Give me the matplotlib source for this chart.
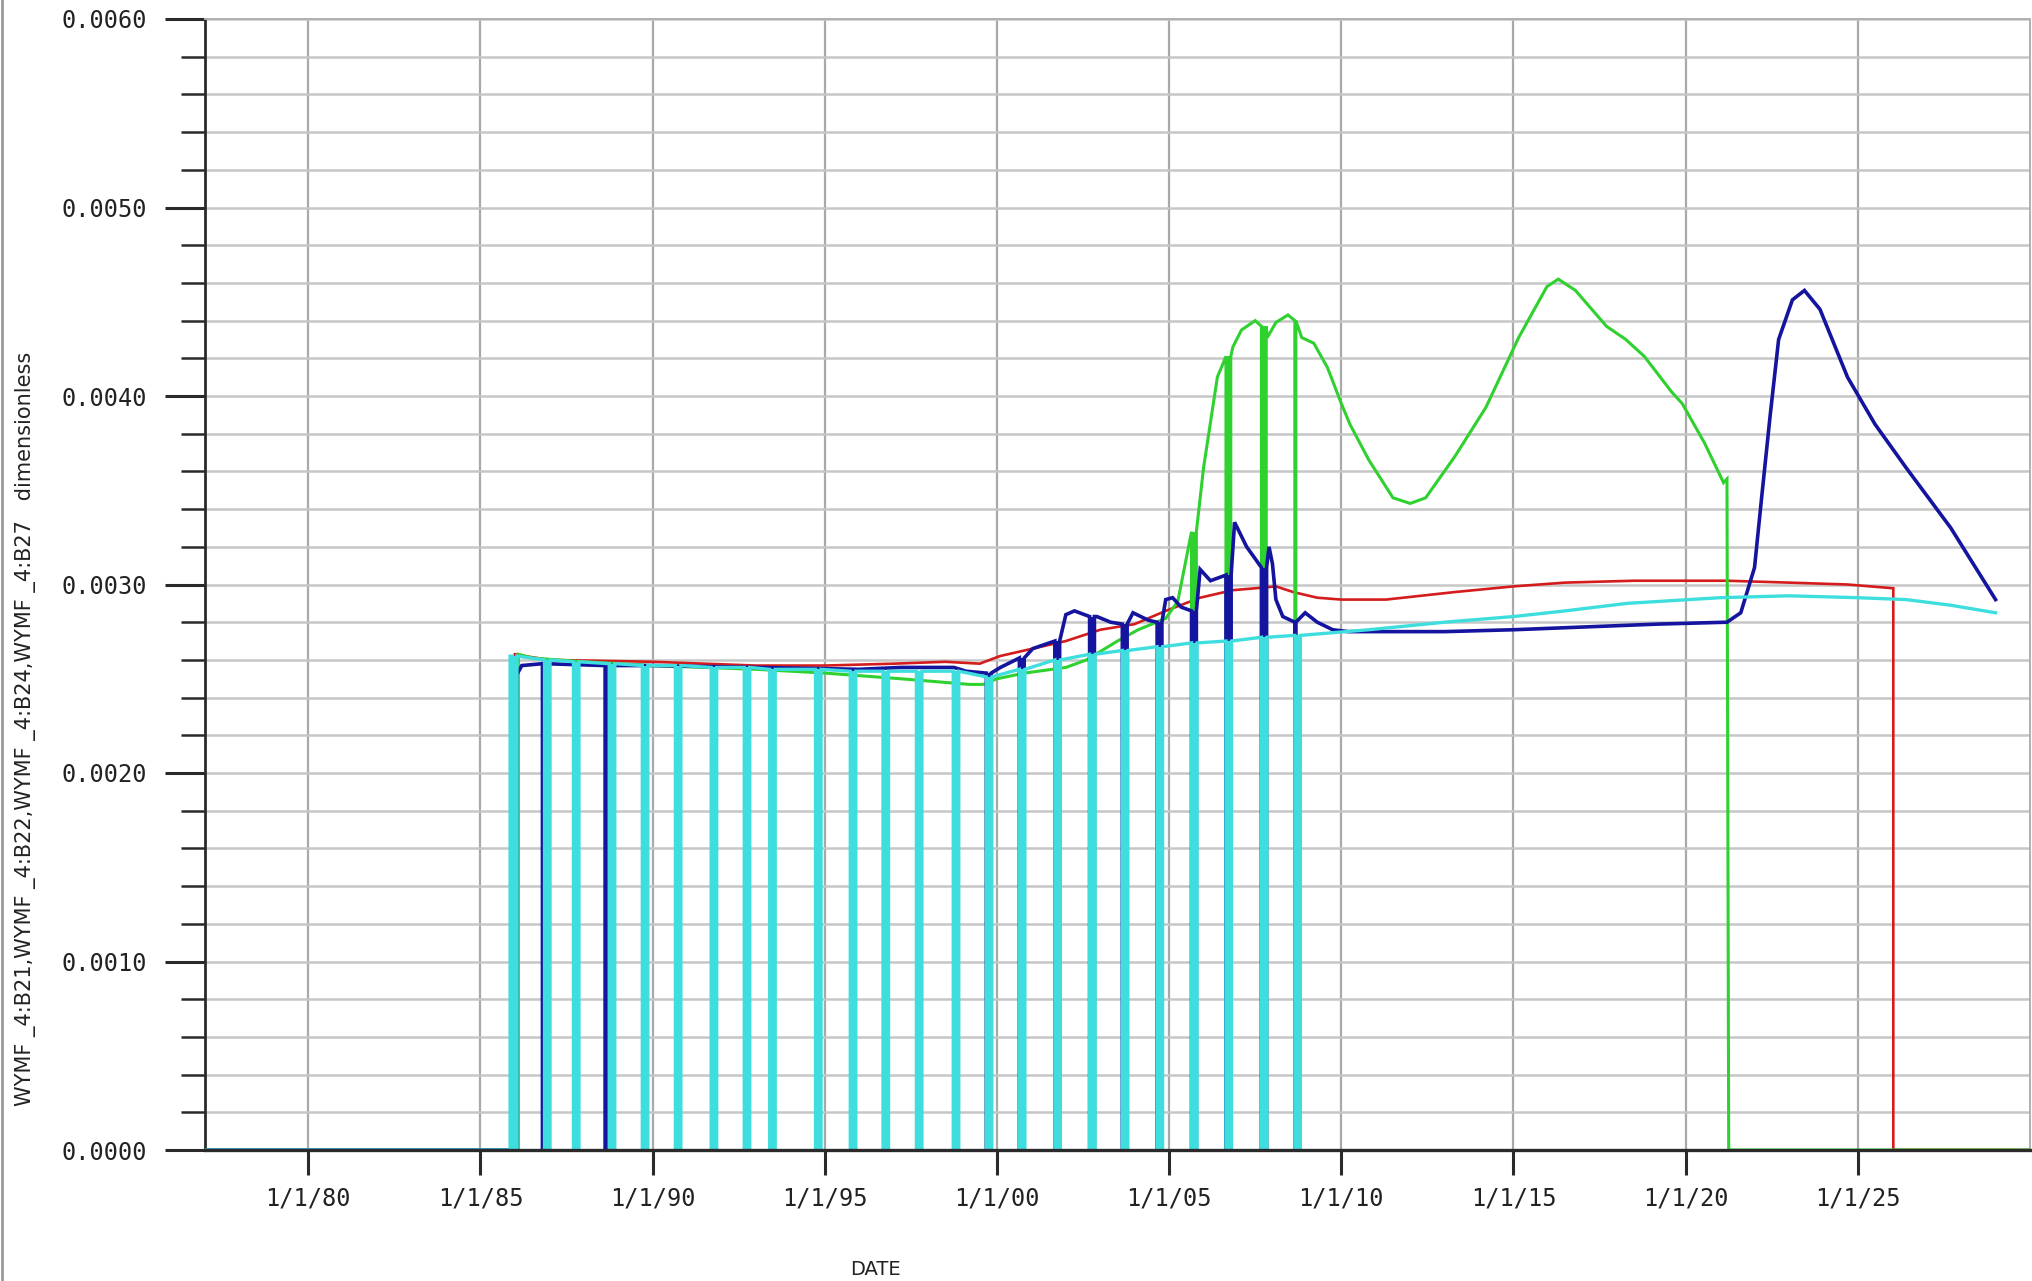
import matplotlib
matplotlib.use("Agg")
import matplotlib.pyplot as plt
from matplotlib.ticker import FixedLocator, MultipleLocator, FuncFormatter
from matplotlib.lines import Line2D

# ---------------------------------------------------------------------------
# Well water-cut history, four wells (dates as decimal years)
# ---------------------------------------------------------------------------
SERIES_NAMES = ["WYMF _4:B21", "WYMF _4:B22", "WYMF _4:B24", "WYMF _4:B27"]

red_dates = [1977.0, 1986.0, 1986.0, 1986.3, 1987.0, 1990.0, 1993.0, 1995.0,
             1997.0, 1998.5, 1999.5, 2000.08, 2001.04, 2002.0, 2003.0, 2004.0,
             2004.9, 2005.9, 2006.85, 2007.5, 2008.1, 2008.6, 2009.3, 2010.0,
             2011.3, 2013.3, 2015.0, 2016.5, 2018.5, 2021.2, 2023.0, 2024.7,
             2026.03, 2026.03, 2030.0]
red_values = [0.0, 0.0, 0.00263, 0.00262, 0.00260, 0.00259, 0.00257, 0.00257,
              0.00258, 0.00259, 0.00258, 0.00262, 0.00266, 0.00270, 0.00276,
              0.00279, 0.00286, 0.00293, 0.00297, 0.00298, 0.00299, 0.00296,
              0.00293, 0.00292, 0.00292, 0.00296, 0.00299, 0.00301, 0.00302,
              0.00302, 0.00301, 0.00300, 0.00298, 0.0, 0.0]
red_shutins = {}

green_dates = [1977.0, 1986.1, 1986.1, 1986.5, 1988.0, 1990.0, 1993.0, 1995.0,
               1997.2, 1999.2, 1999.6, 2000.0, 2000.8, 2002.0, 2002.6, 2003.5,
               2004.1, 2004.9, 2005.25, 2005.65, 2006.0, 2006.4, 2006.65, 2006.85,
               2007.1, 2007.5, 2007.68, 2007.85, 2008.1, 2008.45, 2008.65, 2008.85,
               2009.2, 2009.6, 2010.0, 2010.25, 2010.8, 2011.5, 2012.0, 2012.45,
               2013.3, 2014.2, 2015.15, 2015.97, 2016.3, 2016.8, 2017.7, 2018.26,
               2018.8, 2019.6, 2019.9, 2020.55, 2021.1, 2021.2, 2021.25, 2030.0]
green_values = [0.0, 0.0, 0.00263, 0.00261, 0.00259, 0.00257, 0.00255, 0.00253,
                0.00250, 0.00247, 0.00247, 0.00250, 0.00253, 0.00256, 0.00260,
                0.00270, 0.00276, 0.00282, 0.00291, 0.00328, 0.00362, 0.00410,
                0.00421, 0.00426, 0.00435, 0.00440, 0.00437, 0.00431, 0.00439,
                0.00443, 0.00440, 0.00431, 0.00428, 0.00415, 0.00396, 0.00385,
                0.00366, 0.00346, 0.00343, 0.00346, 0.00368, 0.00394, 0.00431,
                0.00458, 0.00462, 0.00456, 0.00437, 0.00430, 0.00421, 0.00402,
                0.00396, 0.00375, 0.00354, 0.00356, 0.0, 0.0]
green_shutins = {2005.65: 0.14, 2006.65: 0.14, 2007.68: 0.14, 2008.65: 0.03}

blue_dates = [1977.0, 1986.05, 1986.05, 1986.2, 1986.8, 1988.62, 1990.0, 1993.0,
              1996.0, 1997.2, 1998.75, 1999.1, 1999.69, 2000.1, 2000.65, 2001.04,
              2001.68, 2002.0, 2002.25, 2002.69, 2002.9, 2003.3, 2003.64, 2003.95,
              2004.4, 2004.65, 2004.9, 2005.1, 2005.35, 2005.65, 2005.9, 2006.2,
              2006.65, 2006.9, 2007.25, 2007.68, 2007.9, 2008.0, 2008.1, 2008.3,
              2008.65, 2008.95, 2009.3, 2009.75, 2010.2, 2013.0, 2015.0, 2019.2,
              2021.2, 2021.6, 2022.0, 2022.2, 2022.45, 2022.7, 2023.1, 2023.45,
              2023.9, 2024.7, 2025.5, 2026.4, 2027.7, 2029.0]
blue_values = [0.0, 0.0, 0.00252, 0.00257, 0.00258, 0.00257, 0.00257, 0.00256,
               0.00255, 0.00256, 0.00256, 0.00254, 0.00253, 0.00256, 0.00261,
               0.00266, 0.00270, 0.00284, 0.00286, 0.00283, 0.00283, 0.00280,
               0.00279, 0.00285, 0.00281, 0.00280, 0.00292, 0.00293, 0.00288,
               0.00286, 0.00308, 0.00302, 0.00305, 0.00333, 0.00320, 0.00309,
               0.00320, 0.00311, 0.00292, 0.00283, 0.00280, 0.00285, 0.00280,
               0.00276, 0.00275, 0.00275, 0.00276, 0.00279, 0.00280, 0.00285,
               0.00309, 0.00345, 0.00389, 0.00430, 0.00451, 0.00456, 0.00446,
               0.00410, 0.00385, 0.00362, 0.00330, 0.00292]
blue_shutins = {1986.8: 0.03, 1988.62: 0.03, 1999.69: 0.14, 2000.65: 0.14,
                2001.68: 0.14, 2002.69: 0.14, 2003.64: 0.14, 2004.65: 0.14,
                2005.65: 0.14, 2006.65: 0.15, 2007.68: 0.15, 2008.65: 0.03}

cyan_dates = [1977.0, 1985.86, 1985.86, 1985.90, 1986.86, 1987.70, 1988.74,
              1989.70, 1990.66, 1991.70, 1992.66, 1993.40, 1994.73, 1995.74,
              1996.69, 1997.66, 1998.73, 1999.69, 2000.65, 2001.68, 2002.69,
              2003.64, 2004.65, 2005.65, 2006.65, 2007.68, 2008.65, 2010.8,
              2013.0, 2015.0, 2016.5, 2018.3, 2021.0, 2023.0, 2025.0, 2026.4,
              2027.7, 2029.0]
cyan_values = [0.0, 0.0, 0.00262, 0.00262, 0.00260, 0.00259, 0.00258, 0.00257,
               0.00257, 0.00256, 0.00256, 0.00255, 0.00255, 0.00254, 0.00254,
               0.00254, 0.00254, 0.00251, 0.00255, 0.00260, 0.00263, 0.00265,
               0.00267, 0.00269, 0.00270, 0.00272, 0.00273, 0.00276, 0.00280,
               0.00283, 0.00286, 0.00290, 0.00293, 0.00294, 0.00293, 0.00292,
               0.00289, 0.00285]
cyan_shutins = {d: 0.16 for d in [1985.90, 1986.86, 1987.70, 1988.74, 1989.70,
                                  1990.66, 1991.70, 1992.66, 1993.40, 1994.73,
                                  1995.74, 1996.69, 1997.66, 1998.73, 1999.69,
                                  2000.65, 2001.68, 2002.69, 2003.64, 2004.65,
                                  2005.65, 2006.65, 2007.68, 2008.65]}

x_tick_years = [1980, 1985, 1990, 1995, 2000, 2005, 2010, 2015, 2020, 2025]
x_tick_labels = ["1/1/80", "1/1/85", "1/1/90", "1/1/95", "1/1/00",
                 "1/1/05", "1/1/10", "1/1/15", "1/1/20", "1/1/25"]


def with_shutins(dates, values, shutins):
    """Insert the zero-rate periods of well shut-ins after the flagged dates.

    Returns the full line and the (start, width, level) of each shut-in.
    """
    t, v, gaps = [], [], []
    for d, y in zip(dates, values):
        t.append(d)
        v.append(y)
        if d in shutins:
            w = shutins[d]
            t += [d, d + w, d + w]
            v += [0.0, 0.0, y]
            gaps.append((d, w, y))
    return t, v, gaps


fig = plt.figure(figsize=(20.32, 12.81), dpi=100)
fig.patch.set_facecolor("white")
ax = fig.add_axes([205 / 2032, 1 - 1150 / 1281, 1825 / 2032, 1131 / 1281])

series = [
    (red_dates, red_values, red_shutins, "#d41c1c", 1.9),
    (green_dates, green_values, green_shutins, "#2fd12f", 2.2),
    (blue_dates, blue_values, blue_shutins, "#14149e", 2.6),
    (cyan_dates, cyan_values, cyan_shutins, "#3fdede", 2.4),
]
for i, (d, v, s, c, lw) in enumerate(series):
    t, y, gaps = with_shutins(d, v, s)
    ax.plot(t, y, color=c, lw=lw, zorder=3 + i, solid_joinstyle="miter",
            label=SERIES_NAMES[i])
    if gaps:
        # the shut-in notch is drawn solid, as the plotter renders it
        ax.bar([g[0] for g in gaps], [g[2] for g in gaps],
               width=[g[1] for g in gaps], align="edge", color=c, lw=0,
               zorder=3 + i)

ax.set_xlim(1977.0, 2030.0)
ax.set_ylim(0.0, 0.006)

# grid: 5-year verticals, 0.0002 horizontals
ax.xaxis.set_major_locator(FixedLocator(x_tick_years))
ax.set_xticklabels(x_tick_labels)
ax.yaxis.set_major_locator(MultipleLocator(0.001))
ax.yaxis.set_minor_locator(MultipleLocator(0.0002))
ax.yaxis.set_major_formatter(FuncFormatter(lambda val, pos: f"{val:.4f}"))
ax.grid(axis="x", which="major", color="#a9a9a9", lw=1.6, zorder=0)
ax.grid(axis="y", which="both", color="#c6c6c6", lw=1.8, zorder=0)
ax.set_axisbelow(True)

for side in ("top", "right"):
    ax.spines[side].set_color("#b0b0b0")
    ax.spines[side].set_linewidth(1.4)
ax.spines["left"].set_color("#2a2a2a")
ax.spines["left"].set_linewidth(2.0)
ax.spines["bottom"].set_color("#2a2a2a")
ax.spines["bottom"].set_linewidth(2.4)
ax.spines["bottom"].set_zorder(10)

ax.tick_params(axis="y", which="major", direction="out", length=29, width=2.2,
               color="#2a2a2a", pad=13, labelsize=17, labelcolor="#222222")
ax.tick_params(axis="y", which="minor", direction="out", length=17, width=1.8,
               color="#2a2a2a")
ax.tick_params(axis="x", which="major", direction="out", length=18, width=2.2,
               color="#2a2a2a", pad=8, labelsize=17, labelcolor="#222222")
for lab in ax.get_xticklabels() + ax.get_yticklabels():
    lab.set_family("DejaVu Sans Mono")

ax.set_xlabel("DATE", fontsize=14, color="#222222")
ax.xaxis.set_label_coords((875 - 205) / 1825, -0.097)

fig.text(26 / 2032, 1 - 729 / 1281,
         "WYMF _4:B21,WYMF _4:B22,WYMF _4:B24,WYMF _4:B27   dimensionless",
         rotation=90, ha="center", va="center", fontsize=15, color="#222222")

# thin frame at the left edge of the page
fig.add_artist(Line2D([0.001, 0.001], [0, 1], transform=fig.transFigure,
                      color="#9a9a9a", lw=2))

fig.savefig("out.png", dpi=100, facecolor="white")
